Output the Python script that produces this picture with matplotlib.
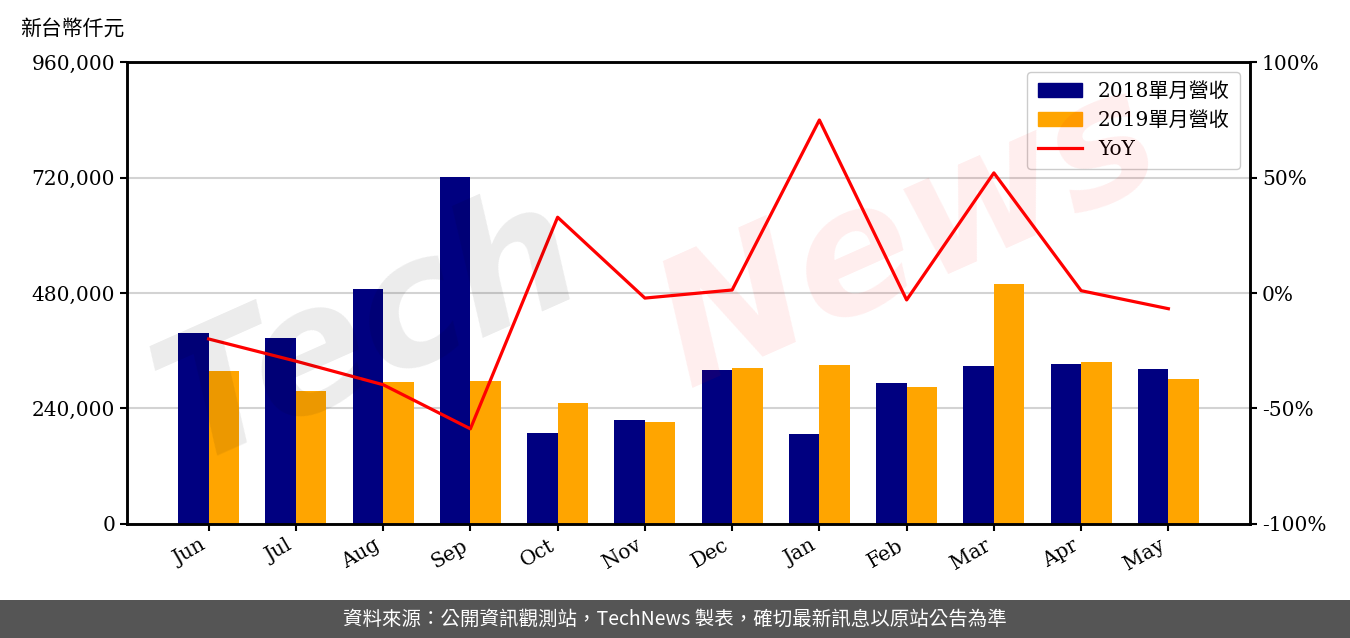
import matplotlib.pyplot as plt
import matplotlib.patches as mpatches
from matplotlib.lines import Line2D
from matplotlib.ticker import FuncFormatter
import numpy as np

plt.rcParams['font.family'] = ['DejaVu Serif', 'Noto Sans CJK TC']

months = ['Jun', 'Jul', 'Aug', 'Sep', 'Oct', 'Nov', 'Dec', 'Jan', 'Feb', 'Mar', 'Apr', 'May']
rev_2018 = [396900, 386500, 488300, 721100, 189100, 216100, 320000, 187000, 293000, 328300, 332500, 322100]
rev_2019 = [317900, 276400, 295100, 297200, 251400, 212000, 324200, 330400, 284700, 498700, 336600, 301300]
yoy = [-19.9, -29.5, -39.7, -58.8, 32.8, -2.2, 1.3, 74.9, -3.0, 52.0, 1.0, -6.8]

x = np.arange(len(months))
w = 0.35

fig = plt.figure(figsize=(13.5, 6.38), dpi=100)
ax = fig.add_axes([0.0941, 0.1787, 0.8318, 0.7241])

ax.bar(x, rev_2018, width=-w, align='edge', color='#000080', zorder=2)
ax.bar(x, rev_2019, width=w, align='edge', color='#ffa500', zorder=2)
ax.set_ylim(0, 960000)
ax.set_yticks(np.arange(0, 960001, 240000))
ax.yaxis.set_major_formatter(FuncFormatter(lambda v, p: f'{int(v):,}'))
ax.set_xticks(x)
ax.set_xticklabels(months, rotation=30, ha='right')
ax.set_axisbelow(True)
ax.grid(axis='y', color='#d3d3d3', linewidth=1.5)
ax.tick_params(labelsize=14.5, width=1.5, length=5)
for s in ax.spines.values():
    s.set_linewidth(1.8)

ax2 = ax.twinx()
ax2.plot(x, yoy, color='red', linewidth=2.3)
ax2.set_ylim(-100, 100)
ax2.set_yticks([-100, -50, 0, 50, 100])
ax2.set_yticklabels(['-100%', '-50%', '0%', '50%', '100%'])
ax2.tick_params(labelsize=14.5, width=1.5, length=5)
for s in ax2.spines.values():
    s.set_linewidth(1.8)

handles = [mpatches.Patch(color='#000080', label='2018單月營收'),
           mpatches.Patch(color='#ffa500', label='2019單月營收'),
           Line2D([0], [0], color='red', linewidth=2.3, label='YoY')]
leg = ax2.legend(handles=handles, loc='upper right', fontsize=14.5,
                 handlelength=2.2, borderpad=0.5, labelspacing=0.5,
                 fancybox=True, framealpha=1, edgecolor='#cccccc')
leg.set_zorder(10)

fig.text(0.015, 0.955, '新台幣仟元', fontsize=15, ha='left', va='center')

# watermark
fig.text(0.10, 0.22, 'Tech', fontsize=125, fontweight='bold', style='italic',
         family='DejaVu Sans', color='black', alpha=0.08, rotation=24,
         ha='left', va='bottom', zorder=20)
fig.text(0.47, 0.34, 'News', fontsize=125, fontweight='bold', style='italic',
         family='DejaVu Sans', color='red', alpha=0.07, rotation=24,
         ha='left', va='bottom', zorder=20)

# footer
fig.patches.append(mpatches.Rectangle((0, 0), 1, 38 / 638, transform=fig.transFigure,
                                      facecolor='#555555', edgecolor='none', zorder=0))
fig.text(0.5, 19 / 638, '資料來源：公開資訊觀測站，TechNews 製表，確切最新訊息以原站公告為準',
         family=['Noto Sans CJK TC', 'DejaVu Sans'], fontsize=14, color='white',
         ha='center', va='center')

fig.savefig('out.png', dpi=100)
